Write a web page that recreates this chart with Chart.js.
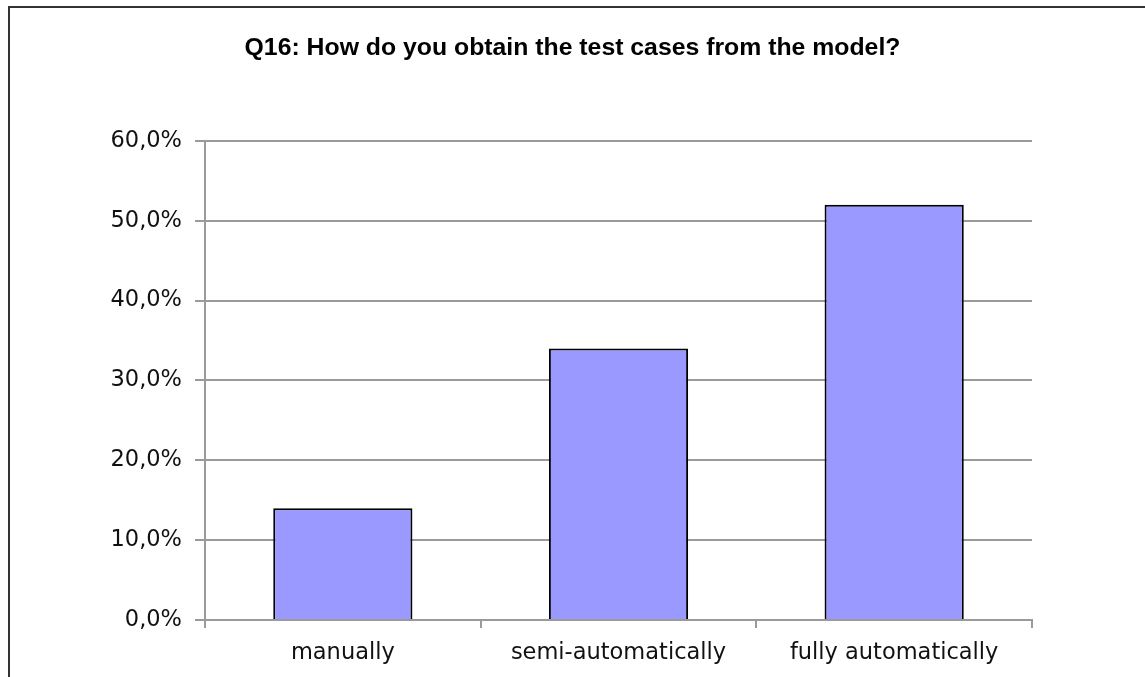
<!DOCTYPE html>
<html>
<head>
<meta charset="utf-8">
<script src="https://cdn.jsdelivr.net/npm/chart.js@4/dist/chart.umd.min.js"></script>
<style>
  html, body { margin: 0; padding: 0; background: #fff; }
  #wrap { position: relative; width: 1145px; height: 677px; }
</style>
</head>
<body>
<div id="wrap"><canvas id="c" width="1145" height="677"></canvas></div>
<script>
// Survey answers for Q16 (share of respondents, %)
const titleText = 'Q16: How do you obtain the test cases from the model?';
const categories = ['manually', 'semi-automatically', 'fully automatically'];
const shares = [14.0, 34.0, 52.0];
const yMin = 0;
const yMax = 60;
const yStep = 10;

const gridGray = '#9a9a9a';
const barFill = '#9999ff';

// Thin dark frame around the chart object (left and top edges visible)
const framePlugin = {
  id: 'frame',
  beforeDraw(chart) {
    const ctx = chart.ctx;
    ctx.save();
    ctx.fillStyle = '#ffffff';
    ctx.fillRect(0, 0, chart.width, chart.height);
    ctx.strokeStyle = '#333333';
    ctx.lineWidth = 2;
    ctx.beginPath();
    ctx.moveTo(9, chart.height + 2);
    ctx.lineTo(9, 7);
    ctx.lineTo(chart.width + 2, 7);
    ctx.stroke();
    ctx.restore();
  }
};

new Chart(document.getElementById('c'), {
  type: 'bar',
  data: {
    labels: categories,
    datasets: [{
      data: shares,
      yAxisID: 'y',
      backgroundColor: barFill,
      borderColor: '#000000',
      borderWidth: 2,
      barPercentage: 0.505,
      categoryPercentage: 1.0
    }]
  },
  options: {
    responsive: false,
    animation: false,
    devicePixelRatio: 1,
    layout: { padding: 0 },
    plugins: {
      legend: { display: false },
      tooltip: { enabled: false },
      title: {
        display: true,
        fullSize: true,
        text: titleText,
        color: '#000000',
        font: { family: '"Liberation Sans", Arial, sans-serif', size: 24.8, weight: 'bold' },
        padding: { top: 33, bottom: 78.2 }
      }
    },
    scales: {
      x: {
        grid: {
          display: true,
          offset: true,
          drawOnChartArea: false,
          color: gridGray,
          lineWidth: 2,
          tickLength: 8
        },
        border: { display: true, color: gridGray, width: 2 },
        ticks: {
          color: '#111111',
          padding: 12,
          font: { family: '"DejaVu Sans", Verdana, sans-serif', size: 22.5 }
        },
        afterFit(scale) { scale.height = 57; }
      },
      y: {
        min: yMin,
        max: yMax,
        grid: {
          color: gridGray,
          lineWidth: 2,
          tickLength: 10
        },
        border: { display: true, color: gridGray, width: 2 },
        ticks: {
          stepSize: yStep,
          color: '#111111',
          padding: 13,
          font: { family: '"DejaVu Sans", Verdana, sans-serif', size: 22.5 },
          callback: (v) => v.toFixed(1).replace('.', ',') + '%'
        },
        afterFit(scale) { scale.width = 205; }
      },
      // empty right-hand margin between the plot and the frame
      margin: {
        position: 'right',
        display: true,
        grid: { display: false },
        border: { display: false },
        ticks: { display: false },
        afterFit(scale) { scale.width = 113; }
      }
    }
  },
  plugins: [framePlugin]
});
</script>
</body>
</html>
